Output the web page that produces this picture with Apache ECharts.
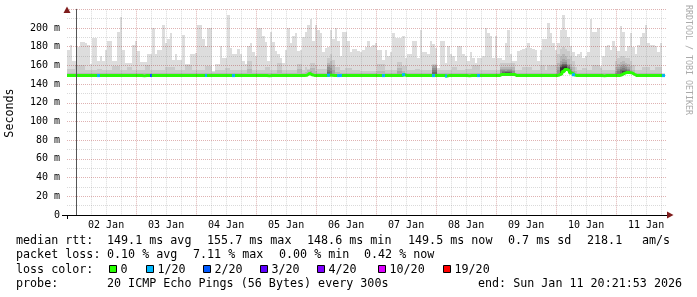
<!DOCTYPE html>
<html><head><meta charset="utf-8">
<script src="https://cdn.jsdelivr.net/npm/echarts@6/dist/echarts.min.js"></script>
<style>html,body{margin:0;padding:0;background:#fff}#c{width:697px;height:297px}</style>
</head><body><div id="c"></div>
<script>
// time axis in hours relative to 02 Jan 00:00 (graph spans Jan 1 20:21:53 .. Jan 11 20:21:53)
const START_HOUR = -3.635;
const END_HOUR = 236.365;
const xTickLabels = ['02 Jan','03 Jan','04 Jan','05 Jan','06 Jan','07 Jan','08 Jan','09 Jan','10 Jan','11 Jan'];
const yTickLabels = ['0','20 m','40 m','60 m','80 m','100 m','120 m','140 m','160 m','180 m','200 m'];

// hourly bins, values in ms: highest ping of the 20 (outer smoke)
const ping20 = [
176,182,165,165,180,185,185,184,182,161,
189,189,165,170,165,177,186,186,165,165,
196,212,177,163,163,163,182,186,175,164,
164,164,172,172,200,172,177,177,203,184,
188,195,166,172,166,166,193,161,161,172,
172,173,203,203,188,181,200,200,154,161,
161,181,168,168,214,179,172,172,178,172,
165,161,181,184,174,170,200,200,191,185,
165,196,185,175,172,168,163,177,200,184,
191,195,175,177,190,196,203,210,186,203,
198,195,174,179,180,198,188,200,186,170,
196,196,186,174,178,178,175,174,177,180,
186,180,182,184,176,176,166,177,170,174,
195,189,189,189,191,168,172,172,186,186,
168,198,174,174,172,186,183,179,157,186,
186,163,181,172,170,165,181,181,172,170,
165,174,168,163,168,168,170,200,195,191,
168,191,168,168,166,184,198,172,165,165,
175,177,178,179,184,179,178,177,165,177,
188,188,205,195,184,177,184,198,214,198,
190,181,174,170,172,174,168,170,174,210,
196,196,200,159,170,181,182,177,186,180,
175,202,196,175,181,195,180,172,182,190,
195,203,184,182,182,181,174,184,152,null];

const ping19 = [
156,156,156,160,160,160,160,155,155,155,
155,155,156,156,155,155,155,155,159,159,
159,155,155,155,158,158,155,155,155,155,
155,160,160,155,155,155,155,155,155,158,
158,158,158,155,155,155,155,160,160,160,
155,155,155,155,155,159,159,159,153,155,
155,155,155,157,157,155,155,155,155,155,
155,155,165,165,155,155,155,155,155,158,
158,155,155,155,163,163,155,155,155,155,
155,155,162,162,155,158,156,163,163,160,
156,156,156,156,168,172,166,158,158,155,
155,157,157,157,155,155,155,154,154,154,
154,154,154,154,161,161,161,155,155,155,
155,155,164,164,159,159,155,155,155,156,
156,155,155,155,155,155,162,162,155,155,
155,155,155,155,158,158,155,155,155,156,
156,156,160,160,160,155,155,155,155,155,
155,155,155,163,163,163,163,163,163,155,
155,155,158,158,158,158,155,155,155,160,
160,155,160,160,160,160,172,178,180,178,
175,170,165,158,155,155,157,157,155,155,
160,160,160,157,155,155,155,155,155,165,
168,170,170,168,168,165,160,155,155,155,
158,158,158,155,155,158,158,158,151,null];

const ping18 = [
152,152,152,152,152,152,152,152,152,152,
152,152,152,152,152,152,152,152,152,152,
152,152,152,152,152,152,152,152,152,152,
152,152,152,152,152,152,152,152,152,152,
152,152,152,152,152,152,152,152,152,152,
152,152,152,152,152,152,152,152,152,152,
152,152,152,152,152,152,152,152,152,152,
152,152,156,156,152,152,152,152,152,152,
152,152,152,152,155,155,152,152,152,152,
152,152,156,156,152,153,155,157,157,154,
152,152,152,152,163,165,160,153,153,152,
152,152,152,152,152,152,152,152,152,152,
152,152,152,152,154,154,154,152,152,152,
152,152,157,157,154,152,152,152,152,152,
152,152,152,152,152,152,160,160,152,152,
152,152,152,152,152,152,152,152,152,152,
152,152,152,152,152,152,152,152,152,152,
152,152,152,158,158,158,158,158,158,152,
152,152,152,152,152,152,152,152,152,152,
152,152,152,152,152,152,163,170,172,170,
167,162,158,154,152,152,152,152,152,152,
152,152,152,152,152,152,152,152,152,158,
162,164,165,163,162,159,155,152,152,152,
152,152,152,152,152,152,152,152,150.5,null];

// inner pings only where they rise above the median line: [bin, ms]
const ping17 = [[97,154],[104,160],[105,160],[106,155],[132,154],[133,154],[146,159],[147,159],[173,156],[174,156],[175,156],[176,156],[177,156],[178,155],[196,158],[197,165],[198,167],[199,166],[200,162],[201,158],[202,154],[219,154],[220,158],[221,160],[222,161],[223,160],[224,158],[225,155],[226,152]];
const ping16 = [[104,158],[105,157],[146,157],[147,157],[173,155],[174,155],[175,154],[176,155],[177,155],[178,154],[196,155],[197,162],[198,164],[199,164],[200,160],[201,156],[219,152],[220,156],[221,158],[222,159],[223,158],[224,156],[225,153]];
const ping15 = [[104,155],[105,154],[146,155],[147,155],[174,154],[175,154],[176,154],[177,154],[197,160],[198,162],[199,162],[200,159],[201,154],[220,154],[221,156],[222,157],[223,156],[224,155]];
const ping14 = [[104,153],[146,153],[147,153],[174,153],[175,153],[176,153],[177,153],[197,159],[198,161],[199,161],[200,158],[221,155],[222,155],[223,155],[224,154]];
const ping13 = [[175,152.5],[176,152.5],[197,158.5],[198,160],[199,160],[200,157],[222,154],[223,154]];
const ping12 = [[197,158],[198,159],[199,159.5],[222,153.5],[223,153.5]];
const ping11 = [[197,157.5],[198,158],[199,158.5]];

const median = [
149.1,149.1,149.1,149.1,149.1,149.1,149.1,149.1,149.1,149.1,
149.1,149.1,149.1,149.1,149.1,149.1,149.1,149.1,149.1,149.1,
149.1,149.1,149.1,149.1,149.1,149.1,149.1,149.1,149.1,149.1,
148.8,149.1,149.1,149.1,149.1,149.1,149.1,149.1,149.1,149.1,
149.1,149.1,149.1,149.1,149.1,149.1,149.1,149.1,149.1,149.1,
149.1,149.1,149.1,149.1,149.1,149.1,149.1,149.1,149.1,149.1,
149.1,149.1,149.1,149.1,149.1,149.1,149.1,149.1,149.1,149.1,
149.1,149.1,149.1,149.1,149.1,149.1,149.1,149.1,149.1,149.1,
148.8,149.1,149.1,149.1,149.1,149.1,149.1,149.1,149.1,149.1,
149.1,149.1,149.1,149.1,149.1,149.5,151.5,150.0,149.3,149.1,
149.1,149.1,149.1,149.1,149.5,149.5,149.1,149.1,149.1,149.1,
149.1,149.1,149.1,149.1,149.1,149.1,149.1,149.1,149.1,149.1,
149.1,149.1,149.1,149.1,149.1,149.1,149.1,149.1,149.1,149.1,
149.1,149.1,149.1,149.1,150.0,149.1,149.1,149.1,149.1,149.1,
149.1,149.1,149.1,149.1,149.1,149.1,149.1,149.1,149.1,149.1,
149.1,148.6,149.1,149.1,149.1,149.1,149.1,149.1,149.1,149.1,
148.8,149.1,149.1,149.1,149.1,149.1,149.1,149.1,149.1,149.1,
149.1,149.1,149.1,150.3,150.3,150.3,150.3,150.3,150.3,149.1,
149.1,149.1,149.1,149.1,149.1,149.1,149.1,149.1,149.1,149.1,
149.1,149.1,149.1,149.1,149.1,149.1,149.8,151.0,153.5,155.7,
154.5,152.0,150.0,149.1,149.1,149.1,149.1,149.1,149.1,149.1,
149.1,149.1,149.1,149.1,148.8,149.1,149.1,149.1,149.1,149.1,
149.1,150.0,151.5,152.5,152.5,152.0,150.5,149.1,149.1,149.1,
149.1,149.1,149.1,149.1,149.1,149.1,149.1,149.1,149.1,null];

// lost pings per bin (out of 20), only non-zero bins: [bin, count]
const loss = [[12,1],[33,2],[55,1],[66,1],[104,1],[108,1],[109,1],[126,1],[134,1],[146,1],[151,1],[164,1],[202,1],[238,1]];

const lossLabels = ['0','1/20','2/20','3/20','4/20','10/20','19/20'];
const lossLevels = [0,1,2,3,4,10,19];

const rttStats = ['149.1 ms avg','155.7 ms max','148.6 ms min','149.5 ms now','0.7 ms sd','218.1','am/s'];
const lossStats = ['0.10 % avg','7.11 % max','0.00 % min','0.42 % now'];
const probeText = '20 ICMP Echo Pings (56 Bytes) every 300s';
const endText = 'end: Sun Jan 11 20:21:53 2026';

// ---------- styles ----------
const lossColors = ['#26ff00','#00b8ff','#0059ff','#5e00ff','#7e00ff','#dd00ff','#ff0000'];
const smokeColors = ['#dddddd','#cacaca','#b7b7b7','#a4a4a4','#919191','#7e7e7e','#6b6b6b','#585858','#454545','#323232'];
const MONO = '"DejaVu Sans Mono", monospace';
const majorGrid = 'rgba(160,30,30,0.34)';
const minorGrid = 'rgba(120,120,120,0.27)';

function renderBand(params, api) {
  const a = api.coord([api.value(0), api.value(3)]);
  const b = api.coord([api.value(1), api.value(2)]);
  const x0 = Math.round(a[0]), x1 = Math.round(b[0]);
  const y0 = Math.round(a[1]), y1 = Math.round(b[1]);
  if (y1 <= y0) return null;
  return {type:'rect', shape:{x:x0, y:y0, width:x1-x0, height:y1-y0}, style:{fill: api.visual('color')}};
}
function bandFromFull(values) {
  const d = [];
  values.forEach((v, i) => { if (v != null && median[i] != null && v > median[i]) d.push([START_HOUR+i, START_HOUR+i+1, median[i], v]); });
  return d;
}
function bandFromSparse(pairs) {
  return pairs.filter(p => p[1] > median[p[0]]).map(p => [START_HOUR+p[0], START_HOUR+p[0]+1, median[p[0]], p[1]]);
}
const bands = [bandFromFull(ping20), bandFromFull(ping19), bandFromFull(ping18),
  bandFromSparse(ping17), bandFromSparse(ping16), bandFromSparse(ping15), bandFromSparse(ping14),
  bandFromSparse(ping13), bandFromSparse(ping12), bandFromSparse(ping11)];

const series = bands.map((d, k) => ({
  type:'custom', renderItem: renderBand, data: d, silent:true, z:1,
  itemStyle:{color: smokeColors[k]}, animation:false
}));

// median line as stair steps
const medianPts = [];
median.forEach((m, i) => { if (m != null) { medianPts.push([START_HOUR+i, m]); medianPts.push([START_HOUR+i+1, m]); } });
series.push({type:'line', data: medianPts, showSymbol:false, silent:true, z:3, animation:false,
  lineStyle:{color: lossColors[0], width:3}});

// loss coloured segments on the median
series.push({type:'custom', silent:true, z:4, animation:false,
  data: loss.map(p => [START_HOUR+p[0], START_HOUR+p[0]+1, median[p[0]], p[1]]),
  renderItem: function(params, api) {
    const a = api.coord([api.value(0), api.value(2)]);
    const b = api.coord([api.value(1), api.value(2)]);
    const c = api.value(3);
    let k = lossLevels.findIndex(l => l >= c); if (k < 0) k = lossLevels.length - 1;
    const x0 = Math.round(a[0]), x1 = Math.round(b[0]);
    return {type:'rect', shape:{x:x0, y:a[1]-1.5, width:x1-x0, height:3}, style:{fill: lossColors[k]}};
  }
});

const dayLines = xTickLabels.map((_, k) => 24*k);
const labelHours = xTickLabels.map((_, k) => 24*k + 12);
const quarterLines = [];
for (let h = -24; h <= END_HOUR; h += 6) { if (h > START_HOUR && h % 24 !== 0) quarterLines.push(h); }

// legend / annotation graphics
const g = [];
function txt(x, y, s, extra) {
  g.push(Object.assign({type:'text', x:x, y:y, silent:true, z:20,
    style:{text:s, fill:'#000', font:'11.7px ' + MONO, verticalAlign:'middle', align:'left'}}, extra || {}));
}
const L1 = 241, L2 = 255.3, L3 = 269.6, L4 = 284;
txt(16, L1, 'median rtt:');
[107,207,307,408,508,587,642].forEach((x, i) => txt(x, L1, rttStats[i]));
txt(16, L2, 'packet loss:');
[107,193,279,364].forEach((x, i) => txt(x, L2, lossStats[i]));
txt(16, L3, 'loss color:');
const boxX = [109,146,203,260,317,378,443];
lossLabels.forEach((s, i) => {
  g.push({type:'rect', silent:true, z:20, shape:{x:boxX[i]+0.5, y:265.5, width:7, height:7},
    style:{fill: lossColors[i], stroke:'#000', lineWidth:1}});
  txt(boxX[i] + 11.5, L3, s);
});
txt(16, L4, 'probe:');
txt(107, L4, probeText);
txt(478, L4, endText);
g.push({type:'text', x:10, y:113, rotation:Math.PI/2, silent:true, z:20,
  style:{text:'Seconds', fill:'#000', font:'11.7px ' + MONO, align:'center', verticalAlign:'middle'}});
g.push({type:'text', x:688, y:60, rotation:-Math.PI/2, silent:true, z:20,
  style:{text:'RRDTOOL / TOBI OETIKER', fill:'#aaaaaa', font:'8.3px ' + MONO, align:'center', verticalAlign:'middle'}});
// axis arrows and small axis extensions
g.push({type:'polygon', silent:true, z:21, shape:{points:[[63.5,13],[70.5,13],[67,6.5]]}, style:{fill:'#7f1c1c'}});
g.push({type:'polygon', silent:true, z:21, shape:{points:[[667,211.5],[667,218.5],[673.5,215]]}, style:{fill:'#7f1c1c'}});
g.push({type:'line', silent:true, z:21, shape:{x1:62, y1:215.5, x2:67, y2:215.5}, style:{stroke:'#000', lineWidth:1}});
g.push({type:'line', silent:true, z:21, shape:{x1:67.5, y1:215, x2:67.5, y2:219}, style:{stroke:'#000', lineWidth:1}});

const chart = echarts.init(document.getElementById('c'), null, {renderer:'canvas'});
chart.setOption({
  animation:false,
  backgroundColor:'#ffffff',
  grid:{left:67, top:9.3, width:600, height:205.7, containLabel:false},
  xAxis:[{
    type:'value', min:START_HOUR, max:END_HOUR, z:10,
    axisLine:{show:true, onZero:false, lineStyle:{color:'#000', width:1}},
    axisTick:{show:false, customValues: dayLines},
    axisLabel:{customValues: labelHours, formatter: v => xTickLabels[Math.round((v-12)/24)] || '',
      fontFamily: MONO, fontSize:10, color:'#000', margin:5},
    splitLine:{show:true, lineStyle:{color: majorGrid, type:[1,1], width:1}}
  },{
    type:'value', min:START_HOUR, max:END_HOUR, z:9, position:'bottom',
    axisLine:{show:false}, axisLabel:{show:false},
    axisTick:{show:false, customValues: quarterLines},
    splitLine:{show:true, lineStyle:{color: minorGrid, type:[1,1], width:1}}
  }],
  yAxis:{
    type:'value', min:0, max:220, interval:10, z:10,
    axisLine:{show:true, lineStyle:{color:'#555', width:1}},
    axisTick:{show:false},
    axisLabel:{formatter: v => (v % 20 === 0 && yTickLabels[v/20] !== undefined) ? yTickLabels[v/20] : '',
      fontFamily: MONO, fontSize:10, color:'#000', margin:7},
    splitLine:{show:true, lineStyle:{color:[majorGrid, minorGrid], type:[1,1], width:1}}
  },
  series: series,
  graphic: g
});
</script></body></html>
